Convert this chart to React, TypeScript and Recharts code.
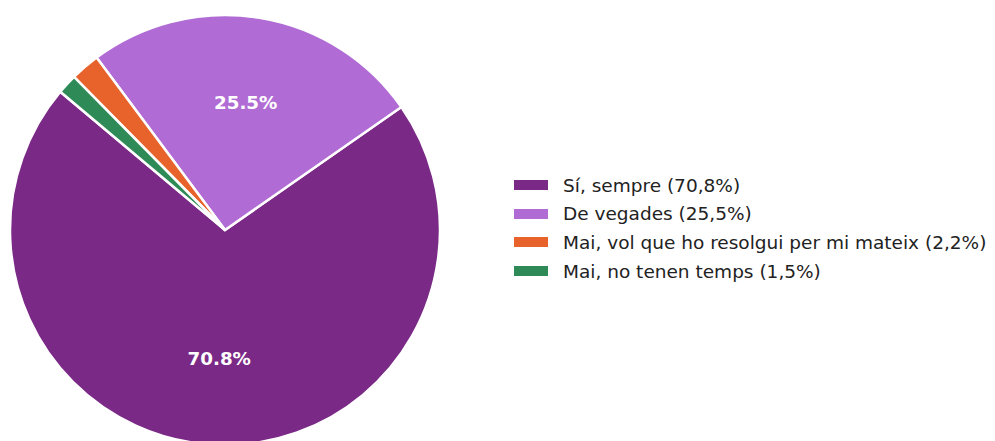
import React from "react";
import { PieChart, Pie, Cell, Legend } from "recharts";

const labels = [
  "Sí, sempre (70,8%)",
  "De vegades (25,5%)",
  "Mai, vol que ho resolgui per mi mateix (2,2%)",
  "Mai, no tenen temps (1,5%)",
];
const values = [70.8, 25.5, 2.2, 1.5];
const colors = ["#7a2a86", "#b06cd4", "#e8622c", "#2e8b57"];

const data = labels.map((name, i) => ({ name, value: values[i] }));

const FONT = "'DejaVu Sans', Verdana, sans-serif";

// etiquetes dins del pastís (només les llesques grans)
const renderLabel = ({ cx, cy, midAngle, outerRadius, percent }: any) => {
  if (percent < 0.03) return null;
  const RADIAN = Math.PI / 180;
  const r = outerRadius * 0.6;
  const x = cx + r * Math.cos(-midAngle * RADIAN);
  const y = cy + r * Math.sin(-midAngle * RADIAN);
  return (
    <text
      x={x}
      y={y}
      fill="#fff"
      textAnchor="middle"
      dominantBaseline="central"
      fontSize={18.3}
      fontWeight="bold"
      fontFamily={FONT}
    >
      {`${(percent * 100).toFixed(1)}%`}
    </text>
  );
};

// llegenda en l'ordre original de les dades
const renderLegend = () => (
  <div style={{ fontFamily: FONT, fontSize: 18.5, color: "#222" }}>
    {labels.map((name, index) => (
      <div
        key={`item-${index}`}
        style={{ display: "flex", alignItems: "center", height: 28.6 }}
      >
        <span
          style={{
            display: "inline-block",
            width: 34,
            height: 10,
            background: colors[index],
            marginRight: 15,
          }}
        />
        <span style={{ whiteSpace: "nowrap" }}>{name}</span>
      </div>
    ))}
  </div>
);

export default function App() {
  return (
    <div style={{ position: "absolute", left: 0, top: 0, background: "#fff" }}>
      <PieChart
        width={995}
        height={441}
        margin={{ top: 0, right: 0, bottom: 0, left: 0 }}
      >
        <Pie
          data={data}
          dataKey="value"
          nameKey="name"
          cx={225}
          cy={230}
          outerRadius={215}
          startAngle={140}
          endAngle={500}
          stroke="#fff"
          strokeWidth={2.5}
          labelLine={false}
          label={renderLabel}
          isAnimationActive={false}
        >
          {data.map((entry, index) => (
            <Cell key={`cell-${index}`} fill={colors[index]} />
          ))}
        </Pie>
        <Legend
          layout="vertical"
          content={renderLegend}
          wrapperStyle={{ left: 514, top: 171, width: 481 }}
        />
      </PieChart>
    </div>
  );
}
